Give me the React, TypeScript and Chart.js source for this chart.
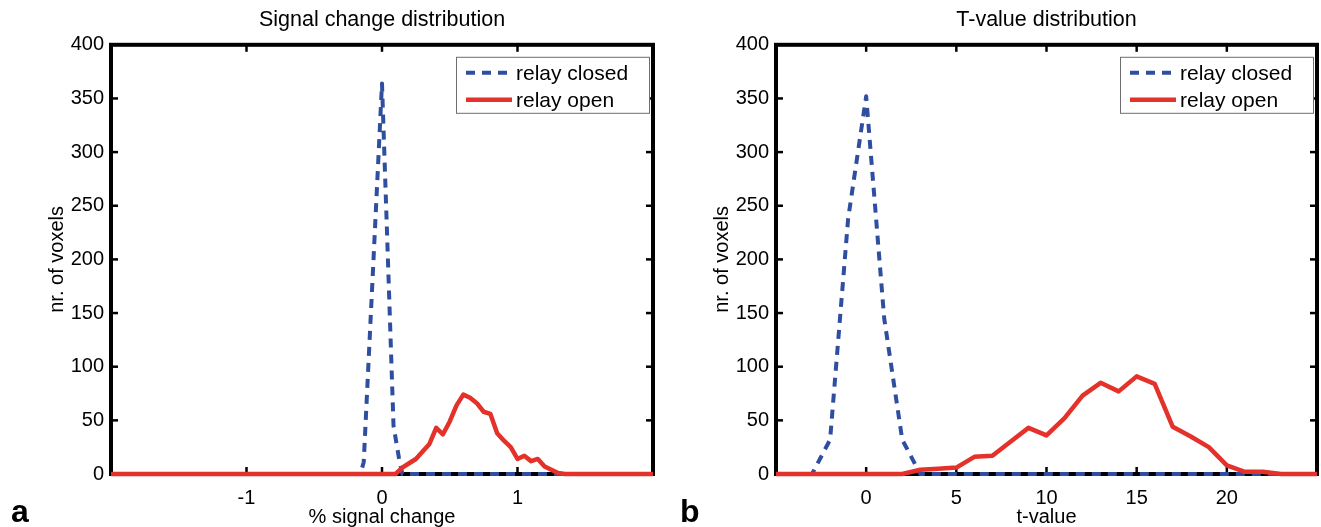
import React, { useEffect, useRef } from "react";
import { Chart, registerables } from "chart.js";

Chart.register(...registerables);

const FONT = '"Liberation Sans", Arial, Helvetica, sans-serif';

// ---------- shared ----------
const seriesLabels = ["relay closed", "relay open"];
const yTickValues = [0, 50, 100, 150, 200, 250, 300, 350, 400];
const yLabel = "nr. of voxels";

// ---------- panel a: signal change ----------
const signalTitle = "Signal change distribution";
const signalXLabel = "% signal change";
const signalXTicks = [-1, 0, 1];
const signalClosedX = [-2, -0.16, -0.135, 0, 0.085, 0.125, 0.15, 2];
const signalClosedY = [0, 0, 11, 364, 45, 15, 0, 0];
const signalOpenX = [-2, 0.1, 0.15, 0.2, 0.25, 0.3, 0.35, 0.4, 0.45, 0.5, 0.55, 0.6, 0.65, 0.7, 0.75, 0.8, 0.85, 0.9, 0.95, 1.0, 1.05, 1.1, 1.15, 1.2, 1.25, 1.3, 1.35, 2];
const signalOpenY = [0, 0, 6, 10, 14, 21, 28, 43, 37, 49, 64, 74, 71, 66, 58, 56, 38, 31, 25, 14, 17, 12, 14, 7, 4, 1, 0, 0];

// ---------- panel b: t-value ----------
const tTitle = "T-value distribution";
const tXLabel = "t-value";
const tXTicks = [0, 5, 10, 15, 20];
const tClosedX = [-5, -3, -2, -1, 0, 1, 2, 3, 25];
const tClosedY = [0, 0, 32, 238, 352, 145, 32, 0, 0];
const tOpenX = [-5, 2, 3, 4, 5, 6, 7, 8, 9, 10, 11, 12, 13, 14, 15, 16, 17, 18, 19, 20, 21, 22, 23, 25];
const tOpenY = [0, 0, 4, 5, 6, 16, 17, 30, 43, 36, 52, 73, 85, 77, 91, 84, 44, 35, 25, 8, 2, 2, 0, 0];

const BLUE = "#2F4E9F";
const RED = "#E4312A";

const zip = (xs: number[], ys: number[]) => xs.map((x, i) => ({ x, y: ys[i] }));

const framePlugin = {
  id: "matlabFrame",
  beforeDatasetsDraw(chart: any) {
    const { ctx, chartArea: a, scales } = chart;
    ctx.save();
    ctx.strokeStyle = "#000";
    ctx.lineWidth = 4;
    ctx.strokeRect(a.left, a.top, a.right - a.left, a.bottom - a.top);
    ctx.lineWidth = 2.5;
    const tl = 7;
    const seg = (x1: number, y1: number, x2: number, y2: number) => {
      ctx.beginPath();
      ctx.moveTo(x1, y1);
      ctx.lineTo(x2, y2);
      ctx.stroke();
    };
    scales.x.ticks.forEach((t: any) => {
      const px = scales.x.getPixelForValue(t.value);
      seg(px, a.bottom, px, a.bottom - tl);
      seg(px, a.top, px, a.top + tl);
    });
    scales.y.ticks.forEach((t: any) => {
      const py = scales.y.getPixelForValue(t.value);
      seg(a.left, py, a.left + tl, py);
      seg(a.right, py, a.right - tl, py);
    });
    ctx.restore();
  },
  afterDatasetsDraw(chart: any) {
    const { ctx, chartArea: a } = chart;
    const w = 194;
    const h = 57;
    const left = a.right - 3 - w;
    const top = a.top + 12;
    ctx.save();
    ctx.fillStyle = "#fff";
    ctx.fillRect(left, top, w, h);
    ctx.strokeStyle = "#6e6e6e";
    ctx.lineWidth = 1;
    ctx.strokeRect(left + 0.5, top + 0.5, w - 1, h - 1);
    ctx.font = "21px " + FONT;
    ctx.textBaseline = "middle";
    ctx.fillStyle = "#000";
    const ds = chart.data.datasets;
    ds.forEach((d: any, i: number) => {
      const cy = top + 16 + i * 27;
      ctx.beginPath();
      ctx.strokeStyle = d.borderColor;
      ctx.lineWidth = d.borderWidth;
      ctx.setLineDash(d.borderDash || []);
      ctx.moveTo(left + 10, cy);
      ctx.lineTo(left + 56, cy);
      ctx.stroke();
      ctx.setLineDash([]);
      ctx.fillText(d.label, left + 60, cy + 1);
    });
    ctx.restore();
  },
};

type PanelProps = {
  title: string;
  xLabel: string;
  xMin: number;
  xMax: number;
  xTicks: number[];
  closed: { x: number; y: number }[];
  open: { x: number; y: number }[];
  yAxisWidth: number;
  yTitlePad: number;
  rightPad: number;
  left: number;
  width: number;
};

function Panel(p: PanelProps) {
  const ref = useRef<HTMLCanvasElement | null>(null);
  useEffect(() => {
    if (!ref.current) return;
    const font = { family: FONT, size: 20 };
    const chart = new Chart(ref.current, {
      type: "line",
      data: {
        datasets: [
          {
            label: seriesLabels[0],
            data: p.closed,
            borderColor: BLUE,
            borderWidth: 4,
            borderDash: [9, 7],
            borderJoinStyle: "round",
            pointRadius: 0,
            tension: 0,
            fill: false,
            clip: false as any,
            order: 2,
          },
          {
            label: seriesLabels[1],
            data: p.open,
            borderColor: RED,
            borderWidth: 4.5,
            borderJoinStyle: "round",
            pointRadius: 0,
            tension: 0,
            fill: false,
            clip: false as any,
            order: 1,
          },
        ],
      },
      options: {
        animation: false,
        responsive: false,
        devicePixelRatio: 1,
        layout: { padding: { left: 0, right: p.rightPad, top: 0, bottom: 0 } },
        plugins: {
          legend: { display: false },
          tooltip: { enabled: false },
          title: {
            display: true,
            text: p.title,
            color: "#000",
            font: { family: FONT, size: 21.5, weight: "normal" as any },
            padding: { top: 7, bottom: 12 },
            fullSize: false,
          },
        },
        scales: {
          x: {
            type: "linear",
            min: p.xMin,
            max: p.xMax,
            afterBuildTicks: (s: any) => {
              s.ticks = p.xTicks.map((v) => ({ value: v }));
            },
            afterFit: (s: any) => {
              s.height = 53;
            },
            grid: { display: false, drawTicks: false },
            border: { display: false },
            ticks: {
              color: "#000",
              font,
              padding: 12,
              maxRotation: 0,
              autoSkip: false,
              callback: (v: any) => String(v),
            },
            title: {
              display: true,
              text: p.xLabel,
              color: "#000",
              font,
              padding: { top: 0, bottom: -2 },
            },
          },
          y: {
            type: "linear",
            min: 0,
            max: 400,
            afterBuildTicks: (s: any) => {
              s.ticks = yTickValues.map((v) => ({ value: v }));
            },
            afterFit: (s: any) => {
              s.width = p.yAxisWidth;
            },
            grid: { display: false, drawTicks: false },
            border: { display: false },
            ticks: { color: "#000", font, padding: 7 },
            title: {
              display: true,
              text: yLabel,
              color: "#000",
              font,
              padding: { top: p.yTitlePad, bottom: 0 },
            },
          },
        },
      },
      plugins: [framePlugin],
    });
    return () => chart.destroy();
  }, []);
  return (
    <canvas
      ref={ref}
      width={p.width}
      height={527}
      style={{ position: "absolute", left: p.left, top: 0, width: p.width, height: 527 }}
    />
  );
}

const letterStyle: React.CSSProperties = {
  position: "absolute",
  top: 495,
  fontFamily: FONT,
  fontWeight: "bold",
  fontSize: 32,
  lineHeight: "32px",
  color: "#000",
};

export default function App() {
  return (
    <div style={{ position: "fixed", left: 0, top: 0, width: 1321, height: 527, background: "#fff" }}>
      <Panel
        title={signalTitle}
        xLabel={signalXLabel}
        xMin={-2}
        xMax={2}
        xTicks={signalXTicks}
        closed={zip(signalClosedX, signalClosedY)}
        open={zip(signalOpenX, signalOpenY)}
        yAxisWidth={111}
        yTitlePad={45}
        rightPad={7}
        left={0}
        width={660}
      />
      <Panel
        title={tTitle}
        xLabel={tXLabel}
        xMin={-5}
        xMax={25}
        xTicks={tXTicks}
        closed={zip(tClosedX, tClosedY)}
        open={zip(tOpenX, tOpenY)}
        yAxisWidth={116}
        yTitlePad={50}
        rightPad={4}
        left={660}
        width={661}
      />
      <span style={{ ...letterStyle, left: 11 }}>a</span>
      <span style={{ ...letterStyle, left: 680 }}>b</span>
    </div>
  );
}
